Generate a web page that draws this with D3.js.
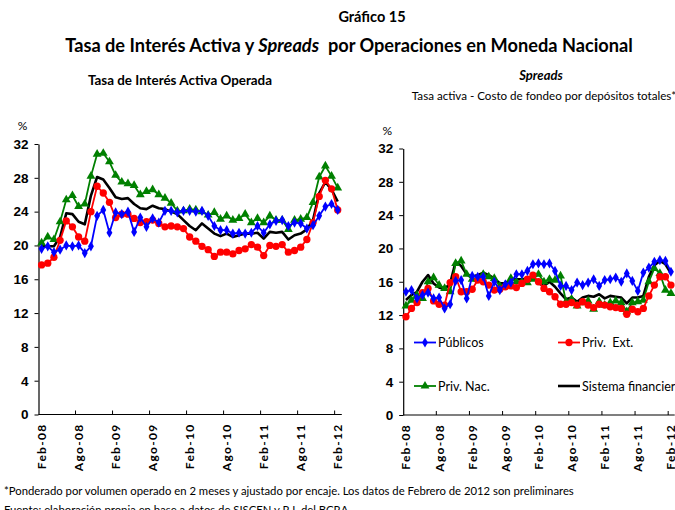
<!DOCTYPE html>
<html>
<head>
<meta charset="utf-8">
<script src="https://cdn.jsdelivr.net/npm/d3@7"></script>
<style>
  body { margin: 0; background: #fff; }
  svg { display: block; font-family: Lato, "Open Sans", sans-serif; }
  .tick text { font-weight: bold; }
</style>
</head>
<body>
<div id="chart"></div>
<script>
//// Data (Feb-08 .. Feb-12, monthly, 49 points)
const mesesAbr = ["Feb", "Mar", "Abr", "May", "Jun", "Jul", "Ago", "Sep", "Oct", "Nov", "Dic", "Ene"]
const tickLabels = ["Feb-08", "Ago-08", "Feb-09", "Ago-09", "Feb-10", "Ago-10", "Feb-11", "Ago-11", "Feb-12"]

// Tasa de interés activa operada
const tasaPublicos = [19.6, 19.9, 19.2, 19.5, 20.0, 19.9, 20.0, 19.1, 19.9, 23.5, 24.2, 21.5, 23.9, 23.7, 24.0, 21.6, 23.3, 22.2, 23.2, 22.7, 24.1, 24.1, 23.9, 24.1, 24.1,
                      24.0, 24.1, 23.5, 22.3, 21.8, 21.8, 21.4, 21.5, 21.4, 21.5, 22.3, 21.5, 22.5, 22.9, 23.0, 22.3, 22.7, 22.6, 22.0, 22.4, 23.5, 24.6, 24.9, 24.2]
const tasaPrivExt = [17.7, 17.9, 18.6, 20.6, 22.9, 22.2, 21.0, 20.5, 24.0, 27.0, 26.2, 25.1, 23.3, 23.7, 23.7, 23.2, 22.7, 22.8, 23.0, 22.6, 22.2, 22.3, 22.2, 22.0, 21.0,
                     20.5, 19.9, 19.5, 18.7, 19.2, 19.2, 19.0, 19.4, 19.6, 20.1, 19.8, 18.8, 20.0, 19.9, 20.1, 19.2, 19.4, 19.8, 20.7, 22.7, 25.8, 27.7, 26.7, 24.2]
const tasaPrivNac = [20.3, 21.0, 20.7, 22.8, 25.4, 25.9, 24.6, 24.9, 28.2, 30.8, 30.9, 29.9, 28.3, 27.5, 27.3, 27.1, 26.0, 26.4, 26.6, 26.0, 25.6, 25.0, 24.1, 24.1, 24.3,
                     24.2, 24.0, 23.6, 23.9, 23.1, 23.5, 23.0, 23.2, 23.7, 22.7, 23.2, 22.7, 23.5, 23.0, 23.0, 21.9, 23.0, 23.1, 23.3, 25.1, 28.1, 29.4, 28.2, 26.8]
const tasaSistema = [19.9, 19.9, 19.9, 21.0, 23.8, 23.7, 22.8, 22.5, 25.9, 28.1, 27.8, 26.8, 25.7, 25.5, 25.6, 24.9, 24.4, 24.3, 24.7, 24.4, 24.3, 24.0, 23.7, 23.0, 22.3,
                     21.8, 22.6, 22.0, 21.4, 21.1, 21.4, 21.0, 21.2, 21.4, 21.4, 21.5, 20.8, 21.6, 21.5, 21.6, 20.7, 21.2, 21.4, 21.9, 23.0, 26.2, 27.5, 26.6, 25.2]

// Spreads
const spreadPublicos = [14.8, 15.0, 14.0, 14.4, 14.7, 14.0, 14.1, 12.8, 13.3, 16.1, 16.2, 14.0, 16.7, 16.6, 16.6, 14.3, 16.0, 15.0, 15.7, 15.9, 16.9, 16.9, 17.3, 18.1, 18.2,
                        18.1, 18.2, 17.3, 15.5, 15.5, 15.0, 15.9, 15.6, 15.9, 16.3, 15.5, 16.2, 16.3, 16.5, 16.0, 17.0, 16.1, 14.9, 17.1, 17.7, 18.4, 18.6, 18.5, 17.2]
const spreadPrivExt = [11.8, 12.8, 13.5, 14.7, 15.2, 13.7, 13.3, 13.2, 15.9, 16.6, 14.8, 14.8, 15.1, 16.2, 16.0, 15.6, 15.0, 15.1, 15.4, 15.5, 15.3, 15.8, 16.3, 16.8, 16.0,
                       15.2, 14.8, 14.2, 13.3, 13.3, 13.5, 13.2, 13.6, 13.2, 12.9, 13.3, 13.2, 13.0, 12.9, 12.8, 12.1, 12.7, 12.4, 12.8, 14.3, 15.6, 16.6, 16.6, 15.6]
const spreadPrivNac = [13.1, 13.8, 14.4, 14.0, 16.0, 16.5, 15.6, 15.2, 14.8, 18.2, 18.5, 16.9, 16.3, 16.3, 16.9, 16.6, 16.4, 15.5, 15.6, 16.4, 16.0, 16.0, 15.9, 16.3, 16.9,
                       16.0, 16.3, 16.2, 16.7, 13.6, 13.9, 13.1, 13.5, 13.7, 12.7, 13.6, 13.2, 13.5, 13.7, 13.5, 12.4, 13.5, 13.6, 13.8, 16.0, 17.6, 17.0, 15.0, 14.6]
const spreadSistema = [13.8, 14.4, 14.8, 16.0, 16.8, 15.8, 15.3, 15.1, 15.8, 18.4, 17.9, 16.9, 16.6, 16.8, 17.1, 16.8, 16.4, 15.8, 15.8, 16.3, 16.3, 16.3, 16.4, 16.6, 15.8,
                       15.5, 16.0, 15.4, 14.6, 13.9, 14.1, 13.6, 14.1, 14.3, 14.2, 14.5, 14.0, 14.3, 14.2, 14.1, 13.4, 14.1, 14.1, 14.3, 16.6, 18.0, 18.5, 18.1, 17.0]

const yTicks = [0, 4, 8, 12, 16, 20, 24, 28, 32]

// month categories Feb-08 .. Feb-12
const meses = []
for (let i = 0; i < tasaSistema.length; i++) {
    const m = (1 + i) % 12
    const yr = 8 + Math.floor((1 + i) / 12)
    meses.push(mesesAbr[(m + 11) % 12] + "-" + String(yr).padStart(2, "0"))
}

//// Series styles
const SERIES_STYLE = {
    publicos: {name: "Públicos", color: "#0000ff", marker: d3.symbolDiamond, size: 30},
    privExt: {name: "Priv.  Ext.", color: "#ff0000", marker: d3.symbolCircle, size: 42},
    privNac: {name: "Priv. Nac.", color: "#008000", marker: d3.symbolTriangle, size: 34},
    sistema: {name: "Sistema financiero", color: "#000000", marker: null, size: 0}
}

const svg = d3.select("#chart").append("svg")
    .attr("width", 675)
    .attr("height", 510)

//// Titles
svg.append("text")
    .attr("x", 372).attr("y", 22)
    .attr("text-anchor", "middle")
    .style("font-size", "14.5px").style("font-weight", "bold")
    .text("Gráfico 15")

const title = svg.append("text")
    .attr("x", 349).attr("y", 52)
    .attr("text-anchor", "middle")
    .style("font-size", "18.2px").style("font-weight", "bold")
    .style("white-space", "pre")
title.append("tspan").text("Tasa de Interés Activa y ")
title.append("tspan").style("font-style", "italic").text("Spreads")
title.append("tspan").text("  por Operaciones en Moneda Nacional")

svg.append("text")
    .attr("x", 180).attr("y", 85)
    .attr("text-anchor", "middle")
    .style("font-size", "13.4px").style("font-weight", "bold")
    .text("Tasa de Interés Activa Operada")

svg.append("text")
    .attr("x", 541).attr("y", 80)
    .attr("text-anchor", "middle")
    .style("font-size", "13px").style("font-weight", "bold").style("font-style", "italic")
    .text("Spreads")

svg.append("text")
    .attr("x", 544).attr("y", 100)
    .attr("text-anchor", "middle")
    .style("font-size", "11.6px")
    .text("Tasa activa - Costo de fondeo por depósitos totales*")

//// Footnotes
svg.append("text")
    .attr("x", 4).attr("y", 495)
    .style("font-size", "11.3px")
    .text("*Ponderado por volumen operado en 2 meses y ajustado por encaje. Los datos de Febrero de 2012 son preliminares")
svg.append("text")
    .attr("x", 4).attr("y", 514)
    .style("font-size", "11.3px")
    .text("Fuente: elaboración propia en base a datos de SISCEN y R.I. del BCRA")

//// Panel drawing
function drawPanel(cfg) {
    const g = svg.append("g")

    const x = d3.scaleBand()
        .domain(meses)
        .range([cfg.left, cfg.right])
        .padding(0)
    const cx = d => x(d) + x.bandwidth() / 2

    const y = d3.scaleLinear()
        .domain([0, 32])
        .range([cfg.bottom, cfg.top])

    // Y axis
    const yAxis = g.append("g")
        .attr("transform", "translate(" + cfg.left + ",0)")
        .call(d3.axisLeft(y).tickValues(yTicks).tickSize(4).tickPadding(6).tickSizeOuter(0))
    yAxis.selectAll("text").style("font-size", "13.5px").attr("fill", "#000")
    yAxis.select(".domain").attr("stroke-width", 1.2)

    g.append("text")
        .attr("x", cfg.left - 16).attr("y", cfg.top - 14)
        .attr("text-anchor", "middle")
        .style("font-size", "12px")
        .text("%")

    // X axis: tick marks at category boundaries, every 6 months
    const tickCats = meses.filter((d, i) => i % 6 === 0 && i > 0)
    const xAxis = g.append("g")
        .attr("transform", "translate(0," + cfg.bottom + ")")
        .call(d3.axisBottom(x).tickValues(tickCats).tickSize(-4).tickSizeOuter(0).tickFormat(""))
    xAxis.selectAll(".tick line").attr("transform", "translate(" + (-x.bandwidth() / 2) + ",0)")
    xAxis.select(".domain").attr("stroke-width", 1.2)
        .attr("d", "M" + cfg.left + ",0H" + (cfg.right + 1))

    // X labels (rotated), centred on the category
    g.append("g")
        .selectAll("text")
        .data(tickLabels)
        .enter()
        .append("text")
            .attr("transform", d => "translate(" + (cx(d) + 4.5) + "," + (cfg.bottom + 9) + ") rotate(-90)")
            .attr("text-anchor", "end")
            .style("font-size", "12px").style("font-weight", "bold")
            .style("letter-spacing", "1.3px")
            .text(d => d)

    const line = d3.line()
        .x((d, i) => cx(meses[i]))
        .y(d => y(d))

    // series, drawn in reference order
    cfg.series.forEach(s => {
        const st = SERIES_STYLE[s.key]
        g.append("path")
            .datum(s.values)
            .attr("d", line)
            .attr("fill", "none")
            .attr("stroke", st.color)
            .attr("stroke-width", s.key === "sistema" ? 2.6 : 1.8)
            .attr("stroke-linejoin", "round")
        if (st.marker) {
            g.append("g")
                .selectAll("path")
                .data(s.values)
                .enter()
                .append("path")
                    .attr("transform", (d, i) => "translate(" + cx(meses[i]) + "," + y(d) + ")")
                    .attr("d", d3.symbol().type(st.marker).size(st.size))
                    .attr("fill", st.color)
        }
    })

    return {x: x, y: y, g: g}
}

drawPanel({
    left: 38.5, right: 340.8, top: 144, bottom: 414.5,
    series: [
        {key: "sistema", values: tasaSistema},
        {key: "privNac", values: tasaPrivNac},
        {key: "privExt", values: tasaPrivExt},
        {key: "publicos", values: tasaPublicos}
    ]
})

const right = drawPanel({
    left: 403.2, right: 673.7, top: 148.5, bottom: 415,
    series: [
        {key: "sistema", values: spreadSistema},
        {key: "privNac", values: spreadPrivNac},
        {key: "privExt", values: spreadPrivExt},
        {key: "publicos", values: spreadPublicos}
    ]
})

//// Legend (right panel)
const legendItems = [
    {key: "publicos", x: 414, y: 342.5},
    {key: "privExt", x: 558, y: 342.5},
    {key: "privNac", x: 414, y: 386},
    {key: "sistema", x: 558, y: 386}
]
const legend = right.g.append("g")
legendItems.forEach(it => {
    const st = SERIES_STYLE[it.key]
    const lg = legend.append("g").attr("transform", "translate(" + it.x + "," + it.y + ")")
    lg.append("line")
        .attr("x1", 0).attr("x2", 22)
        .attr("stroke", st.color)
        .attr("stroke-width", it.key === "sistema" ? 2.6 : 1.8)
    if (st.marker) {
        lg.append("path")
            .attr("transform", "translate(11,0)")
            .attr("d", d3.symbol().type(st.marker).size(st.size))
            .attr("fill", st.color)
    }
    lg.append("text")
        .attr("x", 24).attr("y", 4.5)
        .style("font-size", "12.5px")
        .style("white-space", "pre")
        .text(st.name)
})
</script>
</body>
</html>
